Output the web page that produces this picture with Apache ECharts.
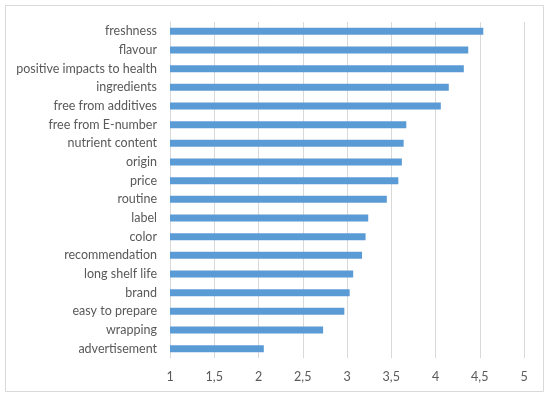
<!DOCTYPE html>
<html>
<head>
<meta charset="utf-8">
<script src="https://cdn.jsdelivr.net/npm/echarts@6/dist/echarts.min.js"></script>
<style>html,body{margin:0;padding:0;background:#fff}#c{width:550px;height:399px}</style>
</head>
<body>
<div id="c"></div>
<script>
var categories = ["freshness","flavour","positive impacts to health","ingredients","free from additives","free from E-number","nutrient content","origin","price","routine","label","color","recommendation","long shelf life","brand","easy to prepare","wrapping","advertisement"];
var values = [4.54,4.37,4.32,4.15,4.06,3.67,3.64,3.62,3.58,3.45,3.24,3.21,3.17,3.07,3.03,2.97,2.73,2.06];
var xTicks = [1,1.5,2,2.5,3,3.5,4,4.5,5];

var chart = echarts.init(document.getElementById('c'), null, {renderer:'canvas'});
chart.setOption({
  animation:false,
  backgroundColor:'#fff',
  graphic:[{type:'rect',shape:{x:5.5,y:5.5,width:538,height:386},style:{fill:'none',stroke:'#D9D9D9',lineWidth:1},silent:true}],
  grid:{left:170,right:26,top:22,bottom:41,containLabel:false},
  xAxis:{
    type:'value',min:1,max:5,interval:0.5,
    axisLine:{show:false},axisTick:{show:false},
    splitLine:{show:true,lineStyle:{color:'#D9D9D9',width:1}},
    axisLabel:{color:'#595959',fontFamily:'Lato',fontSize:12.5,margin:12,
      formatter:function(v){return String(v).replace('.',',');}}
  },
  yAxis:{
    type:'category',data:categories,inverse:true,
    axisLine:{show:true,lineStyle:{color:'#D9D9D9'}},axisTick:{show:false},
    axisLabel:{color:'#595959',fontFamily:'Lato',fontSize:12.5,margin:13}
  },
  series:[{type:'bar',data:values,barWidth:7,itemStyle:{color:'#5B9BD5'}}]
});
</script>
</body>
</html>
